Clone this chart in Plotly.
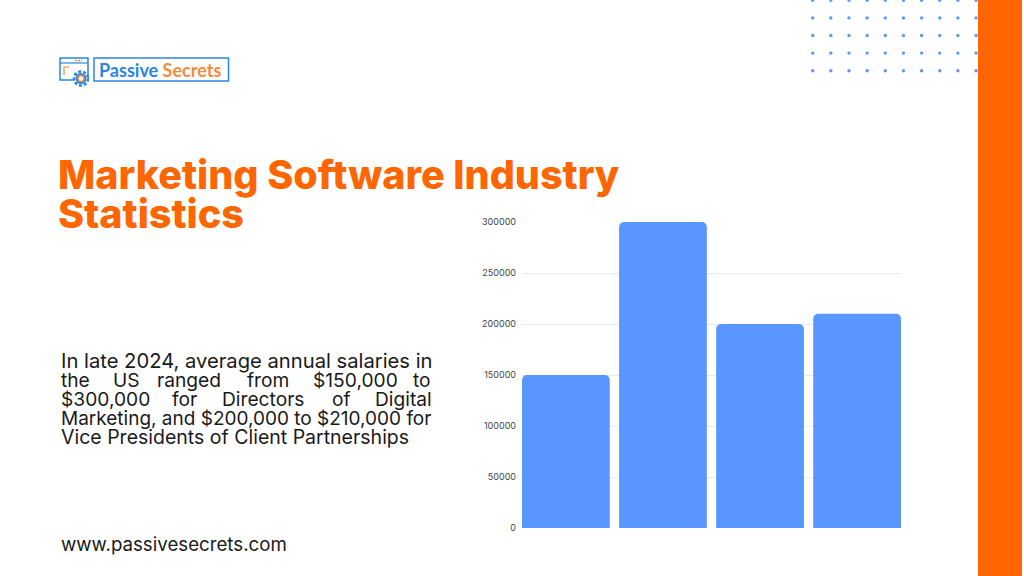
import plotly.graph_objects as go

# values
categories = ["Directors low", "Directors high", "VP low", "VP high"]
salaries = [150000, 300000, 200000, 210000]
y_ticks = [0, 50000, 100000, 150000, 200000, 250000, 300000]

title_lines = ["Marketing Software Industry", "Statistics"]
body_lines = [
    "In late 2024, average annual salaries in",
    None,
    None,
    "Marketing, and $200,000 to $210,000 for",
    "Vice Presidents of Client Partnerships",
]
justified_words = {
    1: [("the", 60), ("US", 112), ("ranged", 156), ("from", 246), ("$150,000", 312), ("to", 412)],
    2: [("$300,000", 60), ("for", 171), ("Directors", 221), ("of", 331), ("Digital", 374)],
}
footer = "www.passivesecrets.com"

W, H = 1024, 576
ORANGE = "#ff6600"
BLUE = "#5a96ff"
LOGO = "#2b86e0"
LOGO_ORANGE = "#f58a3c"
TEXT_FONT = "Inter"


def px(x):
    return x / W


def py(y):
    return 1 - y / H


fig = go.Figure()
fig.add_trace(go.Bar(
    x=categories, y=salaries, marker=dict(color=BLUE, line=dict(width=0)),
    hoverinfo="skip",
))

shapes = []
annotations = []


def text(x, y, s, size, color, font=TEXT_FONT, weight=None):
    annotations.append(dict(
        x=px(x), y=py(y), xref="paper", yref="paper", text=s, showarrow=False,
        xanchor="left", yanchor="middle", align="left", borderpad=0,
        font=dict(family=font, size=size, color=color, weight=weight),
    ))


def box(kind, x0, y0, x1, y1, **kw):
    shapes.append(dict(type=kind, xref="paper", yref="paper", x0=px(x0), x1=px(x1),
                       y0=py(y1), y1=py(y0), layer="below", **kw))


# orange strip on the right
box("rect", 978, 0, 1022, 576, fillcolor=ORANGE, line_width=0)

# dot grid, top right
for row in range(5):
    for col in range(10):
        cx = 812.7 + col * 18.15
        cy = 0.3 + row * 17.6
        box("circle", cx - 1.7, cy - 1.7, cx + 1.7, cy + 1.7, fillcolor=BLUE, line_width=0)

# logo
box("rect", 60, 58, 88, 80, line=dict(color=LOGO, width=1.5))
box("line", 60, 63, 88, 63, line=dict(color=LOGO, width=1.2))
box("line", 75, 60.5, 82, 60.5, line=dict(color=LOGO_ORANGE, width=1.5, dash="2px,1px"))
shapes.append(dict(type="path", xref="paper", yref="paper", layer="below",
                   line=dict(color=LOGO_ORANGE, width=1.2),
                   path=f"M {px(64)} {py(75)} L {px(64)} {py(67)} L {px(69)} {py(67)}"))
box("rect", 94, 58, 228.5, 81, line=dict(color=LOGO, width=1.5), fillcolor="white")
box("circle", 74, 71.5, 88, 85.5, fillcolor="white", line=dict(color=LOGO, width=2.5, dash="3px,2px"))
box("circle", 75.5, 73, 86.5, 84, fillcolor=LOGO, line_width=0)
box("circle", 78, 75.5, 84, 81.5, fillcolor="white", line=dict(color=LOGO_ORANGE, width=1.5))
text(98, 70, f'<span style="color:{LOGO}">Passive</span> '
     f'<span style="color:{LOGO_ORANGE}">Secrets</span>', 18, LOGO, font="Lato", weight=700)

# headline
text(57, 175, title_lines[0], 39.5, ORANGE, weight=800)
text(57, 214, title_lines[1], 39.5, ORANGE, weight=800)

# body text, two lines are justified in the original; digits run wide in this font
line_y = [360.5, 380, 399, 418, 437]
line_size = [20.2, 19.2, 19.2, 19, 19.5]
for i, line in enumerate(body_lines):
    if line is not None:
        text(60, line_y[i], line, line_size[i], "#1a1a1a")
for i, words in justified_words.items():
    for word, x in words:
        text(x, line_y[i], word, line_size[i], "#1a1a1a")

text(60, 544, footer, 18.7, "#1a1a1a")

fig.update_layout(
    width=W, height=H, showlegend=False,
    paper_bgcolor="white", plot_bgcolor="rgba(0,0,0,0)",
    margin=dict(l=0, r=0, t=0, b=0),
    bargap=0.096, barcornerradius=5,
    shapes=shapes, annotations=annotations,
)
fig.update_xaxes(domain=[px(522), px(901)], range=[-0.452, 3.452], showticklabels=False,
                 showgrid=False, zeroline=False, showline=False, ticks="", automargin=False)
fig.update_yaxes(domain=[py(528), py(222)], range=[0, 300000], tickvals=y_ticks, tickformat="d",
                 showgrid=True, gridcolor="#e8ecf2", gridwidth=1, zeroline=False,
                 showline=False, ticks="", ticklabelstandoff=5, automargin=False,
                 tickfont=dict(family="Inter", size=9, color="#444444"))

fig.write_html("out.html", config={"displayModeBar": False},
               post_script="document.body.style.margin='0';")
